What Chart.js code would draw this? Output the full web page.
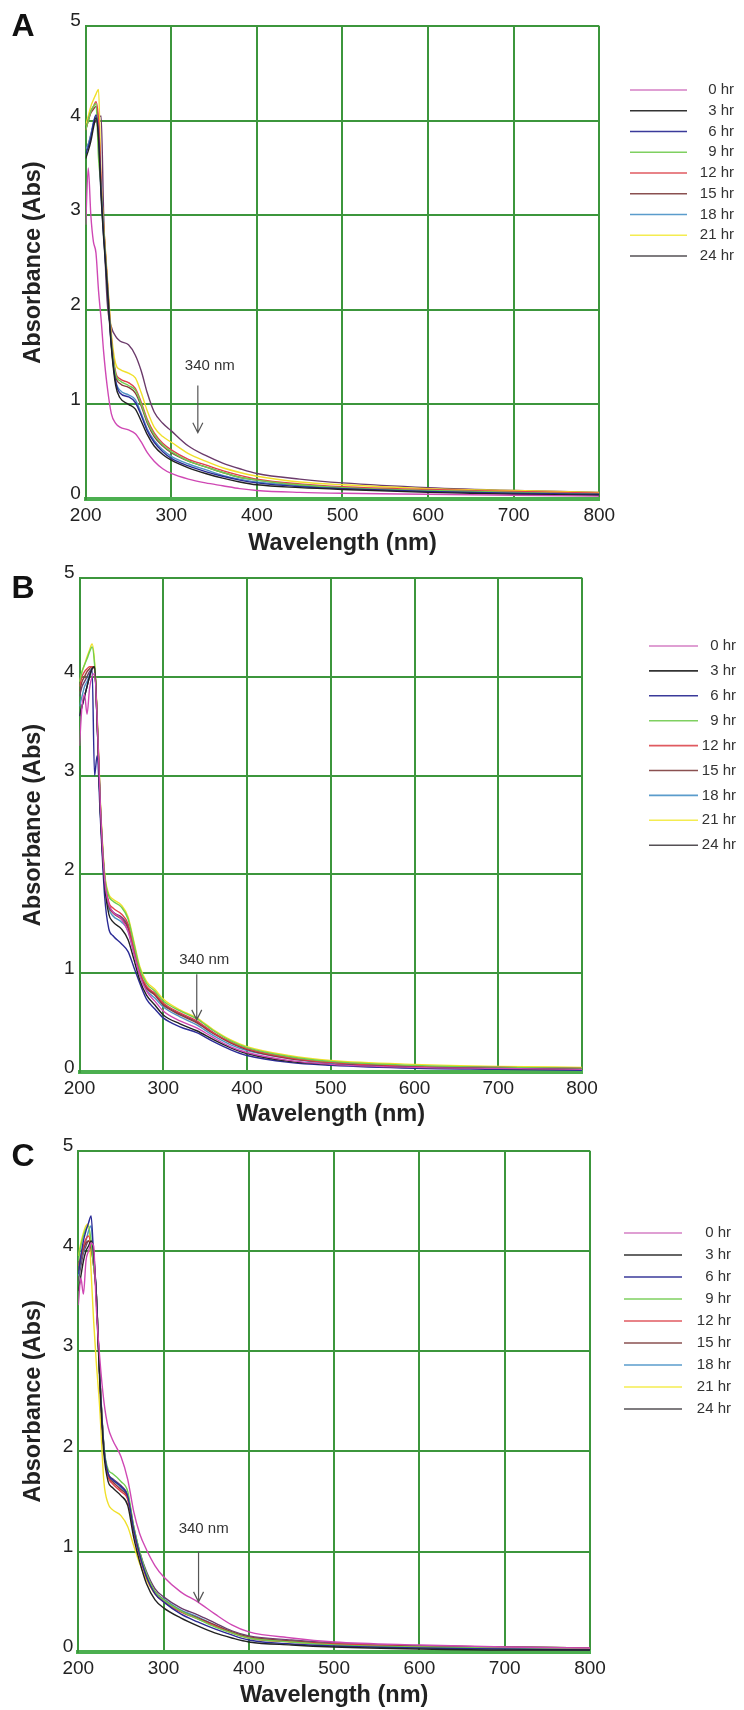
<!DOCTYPE html>
<html>
<head>
<meta charset="utf-8">
<script src="https://cdn.jsdelivr.net/npm/chart.js@4.4.1/dist/chart.umd.min.js"></script>
<style>
body{margin:0;background:#fff;width:744px;height:1710px;position:relative;overflow:hidden;font-family:"Liberation Sans",Arial,sans-serif}
.panel{position:absolute;left:0;width:744px}
.letter{position:absolute;font-weight:bold;font-size:32px;line-height:32px;color:#111;transform:translate(-50%,-50%)}
</style>
</head>
<body>
<div class="panel" style="top:0;height:560px"><canvas id="chartA" width="744" height="560"></canvas></div>
<div class="panel" style="top:560px;height:570px"><canvas id="chartB" width="744" height="570"></canvas></div>
<div class="panel" style="top:1130px;height:580px"><canvas id="chartC" width="744" height="580"></canvas></div>
<div class="letter" style="left:23px;top:25px">A</div>
<div class="letter" style="left:23px;top:587px">B</div>
<div class="letter" style="left:23px;top:1155px">C</div>
<script>
// wavelengths (nm) sampled from the spectra
const wavelengths = [200, 203, 206, 209, 212, 215, 218, 221, 225, 230, 235, 240, 250, 258, 265, 272, 280, 290, 300, 320, 340, 360, 380, 400, 450, 500, 600, 700, 800];
const hourLabels = ['0 hr', '3 hr', '6 hr', '9 hr', '12 hr', '15 hr', '18 hr', '21 hr', '24 hr'];
const xTickStep = 100;
const yTickStep = 1;

// panel A absorbance, one row per time point
const absorbanceA = [
  [2.9, 3.5, 3.0, 2.72, 2.6, 2.2, 1.9, 1.55, 1.2, 0.9, 0.8, 0.76, 0.73, 0.69, 0.6, 0.49, 0.4, 0.32, 0.27, 0.21, 0.17, 0.14, 0.11, 0.09, 0.07, 0.06, 0.05, 0.04, 0.03],
  [3.6, 3.68, 3.78, 3.92, 4.03, 3.8, 3.2, 2.75, 2.25, 1.6, 1.2, 1.07, 1.0, 0.95, 0.82, 0.68, 0.56, 0.47, 0.41, 0.33, 0.27, 0.22, 0.18, 0.15, 0.12, 0.1, 0.07, 0.05, 0.04],
  [3.65, 3.72, 3.82, 3.97, 4.06, 3.85, 3.25, 2.78, 2.28, 1.62, 1.24, 1.12, 1.08, 1.02, 0.88, 0.72, 0.6, 0.5, 0.43, 0.35, 0.29, 0.24, 0.2, 0.17, 0.13, 0.11, 0.08, 0.06, 0.05],
  [3.9, 4.0, 4.1, 4.15, 4.18, 3.6, 3.3, 2.85, 2.32, 1.68, 1.32, 1.25, 1.2, 1.15, 1.0, 0.82, 0.68, 0.57, 0.5, 0.4, 0.34, 0.28, 0.23, 0.2, 0.15, 0.12, 0.09, 0.07, 0.05],
  [3.9, 4.0, 4.1, 4.15, 4.2, 4.0, 3.35, 2.88, 2.35, 1.7, 1.34, 1.27, 1.23, 1.17, 1.02, 0.84, 0.7, 0.59, 0.52, 0.42, 0.36, 0.3, 0.25, 0.21, 0.16, 0.13, 0.1, 0.08, 0.06],
  [3.9, 4.0, 4.08, 4.12, 4.15, 3.95, 3.3, 2.85, 2.32, 1.66, 1.3, 1.22, 1.18, 1.12, 0.98, 0.8, 0.66, 0.56, 0.49, 0.4, 0.34, 0.28, 0.23, 0.2, 0.15, 0.12, 0.09, 0.07, 0.05],
  [3.7, 3.75, 3.85, 3.98, 4.05, 3.8, 3.22, 2.78, 2.28, 1.63, 1.25, 1.15, 1.1, 1.05, 0.9, 0.74, 0.62, 0.52, 0.45, 0.37, 0.31, 0.25, 0.21, 0.18, 0.14, 0.11, 0.08, 0.06, 0.05],
  [3.95, 4.05, 4.15, 4.22, 4.28, 4.33, 3.35, 2.9, 2.38, 1.75, 1.43, 1.37, 1.33, 1.28, 1.12, 0.93, 0.76, 0.66, 0.6, 0.48, 0.4, 0.33, 0.28, 0.24, 0.18, 0.15, 0.11, 0.09, 0.07],
  [3.7, 3.75, 3.85, 3.95, 4.0, 4.03, 4.05, 3.0, 2.1, 1.82, 1.72, 1.67, 1.63, 1.52, 1.35, 1.12, 0.92, 0.8, 0.72, 0.56, 0.46, 0.38, 0.32, 0.27, 0.21, 0.17, 0.12, 0.09, 0.07]
];

// panel B absorbance
const absorbanceB = [
  [3.3, 3.7, 3.82, 3.62, 3.88, 4.0, 4.03, 3.6, 2.68, 1.95, 1.7, 1.62, 1.55, 1.42, 1.2, 0.98, 0.82, 0.72, 0.62, 0.52, 0.45, 0.35, 0.26, 0.2, 0.12, 0.08, 0.05, 0.04, 0.03],
  [3.6, 3.7, 3.8, 3.9, 4.0, 4.08, 4.1, 3.55, 2.62, 1.9, 1.6, 1.52, 1.45, 1.34, 1.14, 0.93, 0.78, 0.68, 0.58, 0.49, 0.42, 0.33, 0.25, 0.19, 0.11, 0.08, 0.05, 0.04, 0.03],
  [3.6, 3.7, 3.8, 3.9, 4.0, 4.08, 3.0, 3.2, 2.55, 1.78, 1.45, 1.38, 1.3, 1.22, 1.06, 0.9, 0.74, 0.64, 0.55, 0.46, 0.4, 0.31, 0.23, 0.17, 0.1, 0.07, 0.04, 0.03, 0.02],
  [3.95, 4.05, 4.12, 4.18, 4.25, 4.3, 4.12, 3.62, 2.7, 2.0, 1.78, 1.73, 1.67, 1.55, 1.3, 1.05, 0.9, 0.82, 0.72, 0.62, 0.54, 0.42, 0.32, 0.25, 0.16, 0.11, 0.07, 0.05, 0.04],
  [3.9, 4.0, 4.05, 4.08, 4.1, 4.1, 4.08, 3.58, 2.68, 1.98, 1.72, 1.66, 1.6, 1.5, 1.26, 1.02, 0.87, 0.8, 0.7, 0.6, 0.52, 0.4, 0.31, 0.24, 0.15, 0.1, 0.06, 0.05, 0.04],
  [3.85, 3.95, 4.0, 4.05, 4.08, 4.1, 4.1, 3.57, 2.66, 1.96, 1.68, 1.61, 1.55, 1.46, 1.23, 1.0, 0.85, 0.78, 0.68, 0.58, 0.5, 0.39, 0.3, 0.23, 0.14, 0.1, 0.06, 0.05, 0.04],
  [3.7, 3.8, 3.9, 3.95, 4.02, 4.08, 4.1, 3.55, 2.64, 1.95, 1.66, 1.58, 1.52, 1.43, 1.2, 0.98, 0.83, 0.75, 0.66, 0.56, 0.48, 0.37, 0.28, 0.22, 0.14, 0.09, 0.06, 0.04, 0.03],
  [3.95, 4.05, 4.12, 4.2, 4.27, 4.33, 4.15, 3.64, 2.72, 2.02, 1.8, 1.75, 1.69, 1.57, 1.32, 1.07, 0.92, 0.84, 0.74, 0.63, 0.55, 0.43, 0.33, 0.26, 0.17, 0.12, 0.08, 0.06, 0.05],
  [3.8, 3.9, 3.95, 4.0, 4.05, 4.08, 4.1, 3.56, 2.65, 1.95, 1.7, 1.62, 1.57, 1.48, 1.24, 1.0, 0.86, 0.79, 0.69, 0.59, 0.51, 0.4, 0.3, 0.24, 0.15, 0.1, 0.06, 0.05, 0.04]
];

// panel C absorbance
const absorbanceC = [
  [3.46, 3.73, 3.57, 3.9, 4.0, 4.08, 4.05, 3.45, 2.95, 2.5, 2.24, 2.12, 1.95, 1.72, 1.4, 1.18, 1.02, 0.86, 0.75, 0.6, 0.5, 0.38, 0.27, 0.2, 0.14, 0.1, 0.07, 0.05, 0.04],
  [3.6, 3.75, 3.9, 4.0, 4.05, 4.1, 4.0, 3.55, 2.72, 1.98, 1.7, 1.64, 1.56, 1.46, 1.14, 0.9, 0.68, 0.52, 0.44, 0.34, 0.26, 0.19, 0.14, 0.1, 0.07, 0.05, 0.03, 0.02, 0.02],
  [3.77, 3.95, 4.1, 4.2, 4.28, 4.35, 3.95, 3.6, 2.78, 2.04, 1.78, 1.72, 1.65, 1.55, 1.22, 0.97, 0.75, 0.58, 0.5, 0.38, 0.3, 0.23, 0.17, 0.12, 0.08, 0.06, 0.04, 0.03, 0.02],
  [3.9, 4.05, 4.15, 4.22, 4.25, 4.1, 3.85, 3.6, 2.8, 2.06, 1.82, 1.78, 1.7, 1.6, 1.25, 1.0, 0.78, 0.6, 0.52, 0.41, 0.33, 0.25, 0.19, 0.14, 0.1, 0.07, 0.05, 0.04, 0.03],
  [3.85, 3.95, 4.05, 4.12, 4.15, 4.05, 3.85, 3.58, 2.78, 2.03, 1.75, 1.68, 1.6, 1.52, 1.2, 0.96, 0.74, 0.58, 0.5, 0.4, 0.33, 0.26, 0.19, 0.14, 0.1, 0.08, 0.05, 0.04, 0.03],
  [3.8, 3.92, 4.02, 4.08, 4.1, 4.02, 3.85, 3.58, 2.78, 2.04, 1.76, 1.7, 1.62, 1.53, 1.2, 0.96, 0.76, 0.6, 0.52, 0.41, 0.34, 0.27, 0.2, 0.15, 0.11, 0.08, 0.06, 0.05, 0.04],
  [3.75, 3.9, 4.0, 4.1, 4.2, 4.25, 3.9, 3.6, 2.78, 2.05, 1.77, 1.72, 1.64, 1.54, 1.22, 0.98, 0.77, 0.6, 0.53, 0.42, 0.35, 0.27, 0.2, 0.15, 0.11, 0.08, 0.06, 0.05, 0.04],
  [3.95, 4.08, 4.18, 4.25, 4.27, 3.8, 3.3, 2.9, 2.45, 1.7, 1.48, 1.42, 1.36, 1.25, 1.06, 0.88, 0.72, 0.58, 0.51, 0.41, 0.34, 0.26, 0.19, 0.14, 0.1, 0.08, 0.06, 0.05, 0.04],
  [3.7, 3.85, 3.98, 4.05, 4.1, 4.1, 3.95, 3.6, 2.8, 2.05, 1.78, 1.73, 1.66, 1.56, 1.25, 1.0, 0.8, 0.63, 0.55, 0.44, 0.37, 0.29, 0.21, 0.16, 0.12, 0.09, 0.06, 0.05, 0.04]
];

// 340 nm marker: label position and arrow, in data units
const markerA = { label: [345, 1.41], from: [331, 1.2], to: [331, 0.7] };
const markerB = { label: [349, 1.14], from: [340, 0.99], to: [340, 0.53] };
const markerC = { label: [347, 1.23], from: [341, 1.0], to: [341, 0.5] };

const lineColors = ['#cf48b4', '#222222', '#2b2b96', '#6fcf4f', '#e0404a', '#8a3c3c', '#4f94c4', '#f0e02a', '#6b3b6b'];
const legendColors = ['#d47fc4', '#333333', '#3a3a9a', '#7fd060', '#e05a60', '#8a5050', '#5a9ccc', '#f4ec50', '#555055'];
const gridGreen = 'rgb(60,150,60)';
const FONT = '"Liberation Sans", Arial, sans-serif';

const decor = {
  id: 'decor',
  afterDatasetsDraw(chart, args, o) {
    const {ctx, scales: {x, y}} = chart;
    ctx.save();
    // 340 nm arrow
    const m = o.marker;
    ctx.fillStyle = '#333';
    ctx.font = '15px ' + FONT;
    ctx.textAlign = 'center';
    ctx.textBaseline = 'middle';
    ctx.fillText('340 nm', x.getPixelForValue(m.label[0]), y.getPixelForValue(m.label[1]));
    const ax = x.getPixelForValue(m.from[0]);
    const ay1 = y.getPixelForValue(m.from[1]);
    const ay2 = y.getPixelForValue(m.to[1]);
    ctx.strokeStyle = '#555';
    ctx.lineWidth = 1.2;
    ctx.beginPath();
    ctx.moveTo(ax, ay1); ctx.lineTo(ax, ay2);
    ctx.moveTo(ax - 5, ay2 - 10); ctx.lineTo(ax, ay2); ctx.lineTo(ax + 5, ay2 - 10);
    ctx.stroke();
    // legend
    const L = o.legend;
    ctx.font = '15px ' + FONT;
    ctx.textAlign = 'right';
    hourLabels.forEach((h, i) => {
      const ly = L.top + i * L.step;
      ctx.strokeStyle = legendColors[i];
      ctx.lineWidth = 1.6;
      ctx.beginPath(); ctx.moveTo(L.x1, ly); ctx.lineTo(L.x2, ly); ctx.stroke();
      ctx.fillStyle = '#333';
      ctx.fillText(h, L.tx, ly);
    });
    ctx.restore();
  }
};

function makeChart(id, rows, P, marker, legend) {
  new Chart(document.getElementById(id), {
    type: 'line',
    data: {
      datasets: rows.map((vals, i) => ({
        label: hourLabels[i],
        data: wavelengths.map((w, j) => ({x: w, y: vals[j]})),
        borderColor: lineColors[i],
        borderWidth: 1.4,
        pointRadius: 0,
        cubicInterpolationMode: 'monotone',
        fill: false
      }))
    },
    options: {
      responsive: false,
      animation: false,
      devicePixelRatio: 1,
      layout: {padding: {left: 0, top: P.top, right: 744 - P.right, bottom: 0}},
      plugins: {legend: {display: false}, tooltip: {enabled: false}, decor: {marker: marker, legend: legend}},
      scales: {
        x: {
          type: 'linear', min: 200, max: 800,
          afterFit: s => { s.height = P.h - P.bottom; },
          ticks: {stepSize: xTickStep, padding: 5, color: '#222', font: {family: FONT, size: 19}},
          grid: {color: gridGreen, lineWidth: 2, drawTicks: false},
          border: {display: true, color: 'rgb(76,175,80)', width: 4},
          title: {display: true, text: 'Wavelength (nm)', color: '#222', font: {family: FONT, size: 23.5, weight: 'bold'}, padding: {top: 0, bottom: P.titlePad}}
        },
        y: {
          min: 0, max: 5,
          afterFit: s => { s.width = P.left; },
          ticks: {stepSize: yTickStep, padding: 5, labelOffset: -5, color: '#222', font: {family: FONT, size: 19}},
          grid: {color: gridGreen, lineWidth: 2, drawTicks: false},
          border: {display: true, color: gridGreen, width: 2},
          title: {display: true, text: 'Absorbance (Abs)', color: '#222', font: {family: FONT, size: 23.5, weight: 'bold'}, padding: {top: 19, bottom: 0}}
        }
      }
    },
    plugins: [decor]
  });
}

makeChart('chartA', absorbanceA, {left: 85.7, right: 599.3, top: 26, bottom: 499, h: 560, titlePad: 2}, markerA, {top: 90, step: 20.75, x1: 630, x2: 687, tx: 734});
makeChart('chartB', absorbanceB, {left: 79.5, right: 582, top: 17.7, bottom: 512.3, h: 570, titlePad: 1.5}, markerB, {top: 86, step: 24.9, x1: 649, x2: 698, tx: 736});
makeChart('chartC', absorbanceC, {left: 78.3, right: 590, top: 20.7, bottom: 522, h: 580, titlePad: 0}, markerC, {top: 103, step: 22, x1: 624, x2: 682, tx: 731});
</script>
</body>
</html>
